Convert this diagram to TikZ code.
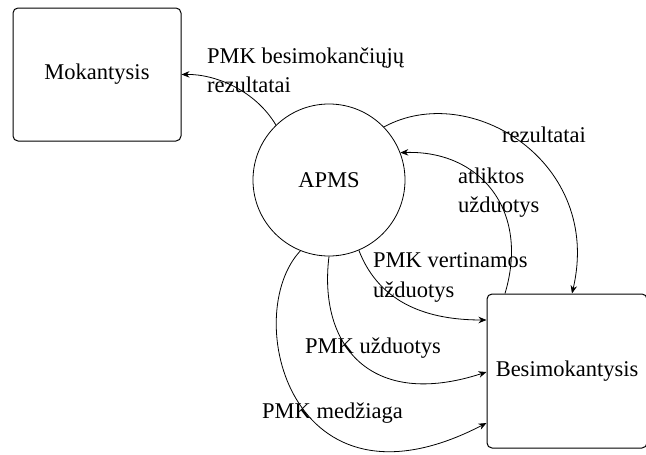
\documentclass[tikz,border=0pt]{standalone}
\usepackage{fontspec}
\setmainfont{Liberation Serif}
\usetikzlibrary{arrows.meta}
\begin{document}
\begin{tikzpicture}[x=1pt,y=-1pt,
 every node/.style={font=\fontsize{22.5}{27}\selectfont},
 box/.style={draw, line width=1pt, rounded corners=5pt, inner sep=0pt},
 proc/.style={draw, circle, line width=0.8pt, minimum size=152pt, inner sep=0pt},
 flow/.style={line width=0.8pt, -{Stealth[length=8pt,width=6.5pt]}},
 lbl/.style={anchor=base west, inner sep=0pt}]
\useasboundingbox (0,0) rectangle (646,455);
\clip (0,0) rectangle (646,455);
\node[box, minimum width=168pt, minimum height=133pt] (mok) at (97,74.5) {Mokantysis};
\node[proc] (apms) at (329,180) {APMS};
\node[box, minimum width=160pt, minimum height=154pt] (bes) at (567,371) {Besimokantysis};

\draw[flow] (apms.134) .. controls (255,90) and (215,74) .. (mok.east);
\draw[flow] (apms.44) .. controls (470,80) and (603,162) .. ([xshift=5pt]bes.north);
\draw[flow] ([xshift=-62pt]bes.north) .. controls (530,210) and (480,150) .. (apms.21.5);
\draw[flow] (apms.-67.5) .. controls (380,305) and (430,320) .. ([yshift=51pt]bes.west);
\draw[flow] (apms.270) .. controls (318,345) and (370,410) .. ([yshift=-1pt]bes.west);
\draw[flow] (apms.248) .. controls (240,315) and (290,525) .. ([yshift=-52pt]bes.west);

\node[lbl] (l1a) at (207,63) {PMK besimokančiųjų};
\node[lbl] (l1b) at (207,92) {rezultatai};
\node[lbl] (l2) at (502,142) {rezultatai};
\node[lbl] (l3a) at (458,183) {atliktos};
\node[lbl] (l3b) at (458,212) {užduotys};
\node[lbl] (l4a) at (373,267) {PMK vertinamos};
\node[lbl] (l4b) at (373,297) {užduotys};
\node[lbl] (l5) at (305,353) {PMK užduotys};
\node[lbl] (l6) at (262,418) {PMK medžiaga};
\end{tikzpicture}
\end{document}
